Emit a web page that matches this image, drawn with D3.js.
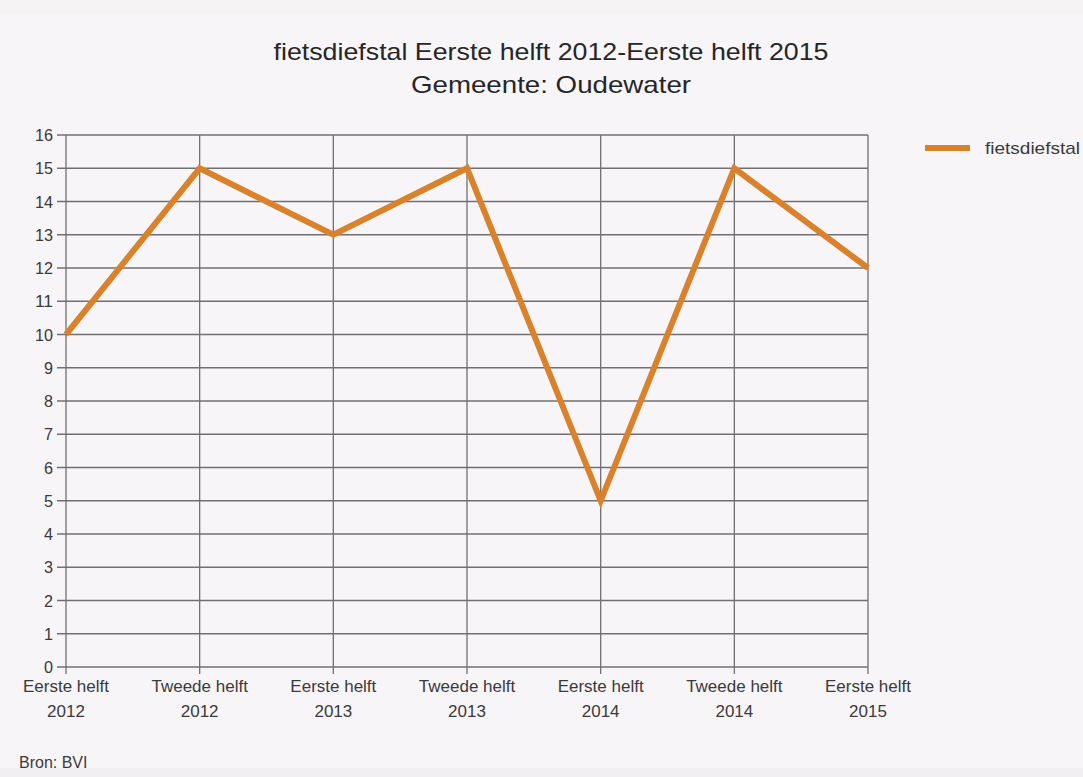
<!DOCTYPE html>
<html><head><meta charset="utf-8">
<script src="https://cdn.jsdelivr.net/npm/d3@7"></script>
<style>
html,body{margin:0;padding:0;background:#f8f5f9;}
svg{display:block;font-family:"Liberation Sans",Arial,sans-serif;}
</style></head>
<body>
<svg id="chart" width="1083" height="777"></svg>
<script>
const categories = ["Eerste helft 2012","Tweede helft 2012","Eerste helft 2013","Tweede helft 2013","Eerste helft 2014","Tweede helft 2014","Eerste helft 2015"];
const values = [10, 15, 13, 15, 5, 15, 12];
const yTicks = [0,1,2,3,4,5,6,7,8,9,10,11,12,13,14,15,16];
const seriesName = "fietsdiefstal";
const titleLines = ["fietsdiefstal Eerste helft 2012-Eerste helft 2015", "Gemeente: Oudewater"];
const source = "Bron: BVI";

const svg = d3.select("#chart");
const W = 1083, H = 777;
const margin = {left: 66, right: W - 868, top: 135, bottom: H - 667};

svg.append("rect").attr("x",0).attr("y",0).attr("width",W).attr("height",H).attr("fill","#f8f5f9");
svg.append("rect").attr("x",0).attr("y",0).attr("width",W).attr("height",14).attr("fill","#f5f3f3");
svg.append("rect").attr("x",0).attr("y",768).attr("width",W).attr("height",9).attr("fill","#f1eff1");

const x = d3.scalePoint().domain(categories).range([margin.left, W - margin.right]);
const y = d3.scaleLinear().domain([0,16]).range([H - margin.bottom, margin.top]);

const gridColor = "#707070";
svg.append("g").selectAll("line").data(yTicks).join("line")
  .attr("x1", margin.left - 9).attr("x2", W - margin.right)
  .attr("y1", d => y(d)).attr("y2", d => y(d))
  .attr("stroke", gridColor).attr("stroke-width", 1.3);
svg.append("g").selectAll("line").data(categories).join("line")
  .attr("x1", d => x(d)).attr("x2", d => x(d))
  .attr("y1", y(16)).attr("y2", y(0) + 7)
  .attr("stroke", gridColor).attr("stroke-width", 1.3);

// y labels
svg.append("g").selectAll("text").data(yTicks).join("text")
  .attr("x", 53).attr("y", d => y(d)).attr("dy", "0.36em")
  .attr("text-anchor", "end").attr("font-size", 17).attr("fill", "#3a3a3a")
  .attr("textLength", d => String(d).length > 1 ? 18 : 9)
  .attr("lengthAdjust", "spacingAndGlyphs")
  .text(d => d);

// x labels
const xl = svg.append("g").selectAll("text").data(categories).join("text")
  .attr("text-anchor", "middle").attr("font-size", 17).attr("fill", "#3a3a3a")
  .attr("transform", d => `translate(${x(d)},0)`);
xl.append("tspan").attr("x", 0).attr("y", 692).text(d => d.replace(/ \d{4}$/, ""));
xl.append("tspan").attr("x", 0).attr("y", 717).text(d => d.match(/\d{4}$/)[0]);

// line
const line = d3.line().x((d,i) => x(categories[i])).y(d => y(d));
svg.append("path").datum(values)
  .attr("d", line).attr("fill", "none")
  .attr("stroke", "#d9822b").attr("stroke-width", 6).attr("stroke-linejoin", "miter");

// title
const tLen = [555, 280];
svg.append("g").selectAll("text").data(titleLines).join("text")
  .attr("x", 551).attr("y", (d,i) => 60 + i*33)
  .attr("text-anchor", "middle").attr("font-size", 24).attr("fill", "#262626")
  .attr("textLength", (d,i) => tLen[i]).attr("lengthAdjust", "spacingAndGlyphs")
  .text(d => d);

// legend
svg.append("line").attr("x1", 925).attr("x2", 970).attr("y1", 148).attr("y2", 148)
  .attr("stroke", "#d9822b").attr("stroke-width", 6);
svg.append("text").attr("x", 985).attr("y", 148).attr("dy", "0.36em")
  .attr("font-size", 17).attr("fill", "#3a3a3a")
  .attr("textLength", 95).attr("lengthAdjust", "spacingAndGlyphs")
  .text(seriesName);

// source
svg.append("text").attr("x", 19).attr("y", 768).attr("font-size", 16).attr("fill", "#3a3a3a").text(source);
</script>
</body></html>
